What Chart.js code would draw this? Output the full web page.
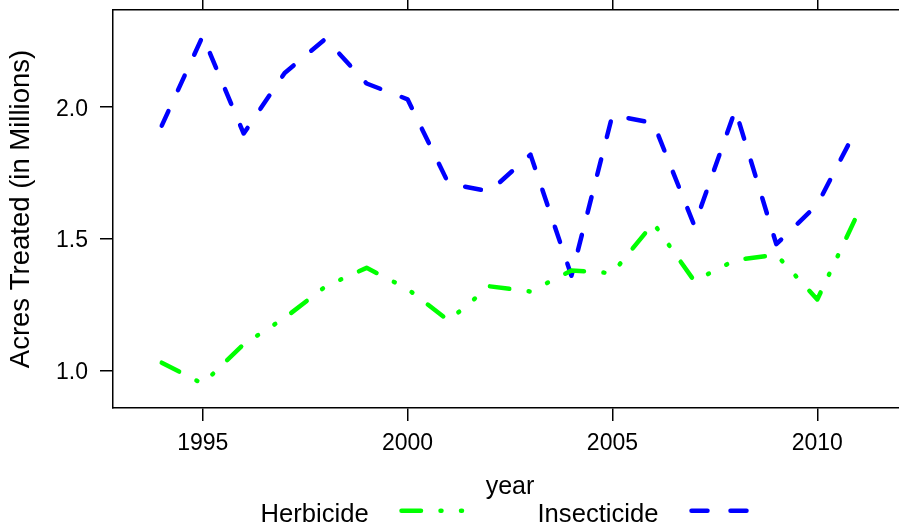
<!DOCTYPE html>
<html>
<head>
<meta charset="utf-8">
<script src="https://cdn.jsdelivr.net/npm/chart.js@4"></script>
<style>
html, body { margin: 0; padding: 0; overflow: hidden; background: #fff; }
canvas { display: block; }
</style>
</head>
<body>
<canvas id="acresChart" width="907" height="527"></canvas>
<script>
// values (millions of acres)
const years = [1994, 1995, 1996, 1997, 1998, 1999, 2000, 2001, 2002, 2003, 2004, 2005, 2006, 2007, 2008, 2009, 2010, 2011];
const herbicide = [1.03, 0.95, 1.10, 1.20, 1.32, 1.39, 1.31, 1.19, 1.32, 1.30, 1.38, 1.37, 1.56, 1.34, 1.42, 1.44, 1.27, 1.60];
const insecticide = [1.93, 2.27, 1.90, 2.13, 2.26, 2.09, 2.03, 1.71, 1.68, 1.82, 1.36, 1.97, 1.94, 1.55, 1.99, 1.48, 1.63, 1.93];
const seriesNames = ['Herbicide', 'Insecticide'];
const xTicks = [1995, 2000, 2005, 2010];
const yTicks = [1.0, 1.5, 2.0];

const FONT = "'Liberation Sans', Arial, sans-serif";
Chart.defaults.font.family = FONT;
Chart.defaults.color = '#000';

function toPoints(vals) {
    return years.map((yr, i) => ({ x: yr, y: vals[i] }));
}

// key under the plot: text then line sample, like the lattice key
const keyPlugin = {
    id: 'key',
    afterDraw(chart) {
        const ctx = chart.ctx;
        const spots = [
            { text: 260.5, from: 401.5, to: 462 },
            { text: 537.5, from: 691.5, to: 747 }
        ];
        ctx.save();
        ctx.font = '25.6px ' + FONT;
        ctx.fillStyle = '#000';
        ctx.textBaseline = 'alphabetic';
        chart.data.datasets.forEach((ds, i) => {
            const p = spots[i];
            ctx.fillText(ds.label, p.text, 521.7);
            ctx.strokeStyle = ds.borderColor;
            ctx.lineWidth = ds.borderWidth;
            ctx.lineCap = 'round';
            ctx.setLineDash(ds.borderDash);
            ctx.beginPath();
            ctx.moveTo(p.from, 510.7);
            ctx.lineTo(p.to, 510.7);
            ctx.stroke();
        });
        ctx.restore();
    }
};

// keep chart.js from adding room for the end labels
function noPad(s) {
    s.paddingTop = 0;
    s.paddingBottom = 0;
    s.paddingLeft = 0;
    s.paddingRight = 0;
}

const axisGrid = { drawOnChartArea: false, drawTicks: true, tickLength: 13, color: '#000', lineWidth: 1.5 };
const axisBorder = { display: true, color: '#000', width: 1.5 };

new Chart(document.getElementById('acresChart'), {
    type: 'line',
    data: {
        datasets: [{
            label: seriesNames[0],
            data: toPoints(herbicide),
            borderColor: '#00ff00',
            borderWidth: 4.5,
            borderDash: [19.5, 19.5, 1, 19.5, 1, 19.5],
            borderCapStyle: 'round',
            borderJoinStyle: 'round',
            pointRadius: 0,
            tension: 0,
            fill: false
        }, {
            label: seriesNames[1],
            data: toPoints(insecticide),
            borderColor: '#0000ff',
            borderWidth: 4.5,
            borderDash: [16, 23],
            borderCapStyle: 'round',
            borderJoinStyle: 'round',
            pointRadius: 0,
            tension: 0,
            fill: false
        }]
    },
    options: {
        responsive: false,
        animation: false,
        devicePixelRatio: 1,
        layout: { padding: 0 },
        plugins: {
            legend: { display: false },
            tooltip: { enabled: false }
        },
        scales: {
            x: {
                type: 'linear',
                position: 'bottom',
                min: 1992.81,
                max: 2012.19,
                afterBuildTicks: s => { s.ticks = xTicks.map(v => ({ value: v })); },
                afterFit: s => { s.height = 119; noPad(s); },
                grid: axisGrid,
                border: axisBorder,
                ticks: { font: { size: 23 }, padding: 8.5, maxRotation: 0, autoSkip: false, callback: v => String(v) },
                title: { display: true, text: 'year', font: { size: 25 }, padding: { top: 0, bottom: 24.7 } }
            },
            xTop: {
                type: 'linear',
                position: 'top',
                min: 1992.81,
                max: 2012.19,
                afterBuildTicks: s => { s.ticks = xTicks.map(v => ({ value: v })); },
                afterFit: s => { s.height = 10; noPad(s); },
                grid: axisGrid,
                border: axisBorder,
                ticks: { display: false }
            },
            y: {
                type: 'linear',
                position: 'left',
                min: 0.858,
                max: 2.369,
                afterBuildTicks: s => { s.ticks = yTicks.map(v => ({ value: v })); },
                afterFit: s => { s.width = 113; noPad(s); },
                grid: axisGrid,
                border: axisBorder,
                ticks: { font: { size: 23 }, padding: 12, labelOffset: 2, callback: v => v.toFixed(1) },
                title: { display: true, text: 'Acres Treated (in Millions)', font: { size: 27.5 }, padding: { top: 4.6, bottom: 0 } }
            }
        }
    },
    plugins: [keyPlugin]
});
</script>
</body>
</html>
